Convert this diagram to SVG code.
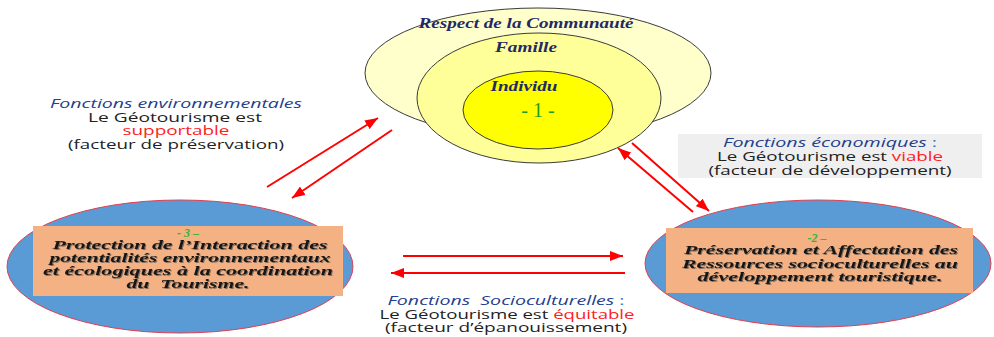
<svg xmlns="http://www.w3.org/2000/svg" width="994" height="337" viewBox="0 0 994 337">
<defs>
<marker id="ah" markerUnits="userSpaceOnUse" markerWidth="14" markerHeight="10" refX="13" refY="5" orient="auto">
<path d="M0,0 L13,5 L0,10 Z" fill="#FF0000"/>
</marker>
<filter id="sh" x="-5%" y="-20%" width="110%" height="140%">
<feDropShadow dx="1" dy="1" stdDeviation="0.6" flood-color="#555" flood-opacity="0.7"/>
</filter>
</defs>
<style>
.ring{stroke:#3a3a3a;stroke-width:1}
.blue{fill:#5B9BD5;stroke:#E0404F;stroke-width:1}
.box{fill:#F4B183}
.lbl{font-family:"Liberation Serif",serif;font-weight:bold;font-style:italic;font-size:14px;fill:#1F2A66;text-anchor:middle}
.bx{font-family:"Liberation Serif",serif;font-weight:bold;font-style:italic;font-size:13px;fill:#151515;text-anchor:middle;filter:url(#sh)}
.num{font-family:"Liberation Serif",serif;font-weight:bold;font-style:italic;font-size:12px;fill:#33B533;text-anchor:middle}
.fn{font-family:"Open Sans","DejaVu Sans",sans-serif;font-size:12px;fill:#222;text-anchor:middle}
.fi{font-style:italic;fill:#23408E}
.red{fill:#FF2020}
.arr{stroke:#FF0000;stroke-width:2;fill:none;marker-end:url(#ah)}
</style>
<rect width="994" height="337" fill="#FFFFFF"/>

<g id="circles">
<ellipse class="ring" cx="538" cy="73" rx="173" ry="65" fill="#FFFFCC"/>
<ellipse class="ring" cx="539" cy="98" rx="122" ry="65" fill="#FFFF99"/>
<ellipse class="ring" cx="538" cy="110" rx="75" ry="39" fill="#FFFF00"/>
<text class="lbl" x="526" y="28" textLength="215" lengthAdjust="spacingAndGlyphs">Respect de la Communauté</text>
<text class="lbl" x="526" y="52" textLength="62" lengthAdjust="spacingAndGlyphs">Famille</text>
<text class="lbl" x="524" y="91" textLength="67" lengthAdjust="spacingAndGlyphs">Individu</text>
<text x="538" y="117" font-family="Liberation Serif,serif" font-size="20" fill="#1E9E1E" text-anchor="middle" xml:space="preserve">- 1 -</text>
</g>

<g id="node3">
<ellipse class="blue" cx="180" cy="266.5" rx="173" ry="66.5"/>
<rect class="box" x="33" y="226" width="310" height="70"/>
<text class="num" x="188" y="237" xml:space="preserve">- 3 –</text>
<text class="bx" x="190" y="249" textLength="275" lengthAdjust="spacingAndGlyphs">Protection de l’Interaction des</text>
<text class="bx" x="190" y="262" textLength="281" lengthAdjust="spacingAndGlyphs">potentialités environnementaux</text>
<text class="bx" x="188" y="275" textLength="290" lengthAdjust="spacingAndGlyphs">et écologiques à la coordination</text>
<text class="bx" x="188" y="288" textLength="123" lengthAdjust="spacingAndGlyphs" xml:space="preserve">du  Tourisme.</text>
</g>

<g id="node2">
<ellipse class="blue" cx="818" cy="263.5" rx="173" ry="63.5"/>
<rect class="box" x="666" y="228" width="307" height="65"/>
<text class="num" x="817" y="242" xml:space="preserve">-2 –</text>
<text class="bx" x="821" y="254" textLength="274" lengthAdjust="spacingAndGlyphs">Préservation et Affectation des</text>
<text class="bx" x="820" y="268" textLength="276" lengthAdjust="spacingAndGlyphs">Ressources socioculturelles au</text>
<text class="bx" x="820" y="281" textLength="245" lengthAdjust="spacingAndGlyphs">développement touristique.</text>
</g>

<g id="label-env">
<text class="fn fi" x="176" y="108" textLength="252" lengthAdjust="spacingAndGlyphs">Fonctions environnementales</text>
<text class="fn" x="175" y="122" textLength="174" lengthAdjust="spacingAndGlyphs">Le Géotourisme est</text>
<text class="fn red" x="176" y="135" textLength="107" lengthAdjust="spacingAndGlyphs">supportable</text>
<text class="fn" x="176" y="149" textLength="216" lengthAdjust="spacingAndGlyphs">(facteur de préservation)</text>
</g>

<g id="label-eco">
<rect x="678" y="134" width="304" height="44" fill="#EFEFEF"/>
<text class="fn" x="830" y="147" textLength="214" lengthAdjust="spacingAndGlyphs"><tspan class="fi">Fonctions économiques </tspan><tspan fill="#2E75D0">:</tspan></text>
<text class="fn" x="830" y="161" textLength="226" lengthAdjust="spacingAndGlyphs">Le Géotourisme est <tspan class="red">viable</tspan></text>
<text class="fn" x="830" y="175" textLength="243" lengthAdjust="spacingAndGlyphs">(facteur de développement)</text>
</g>

<g id="label-socio">
<text class="fn" x="506" y="305" textLength="237" lengthAdjust="spacingAndGlyphs" xml:space="preserve"><tspan class="fi">Fonctions  Socioculturelles </tspan><tspan fill="#2E75D0">:</tspan></text>
<text class="fn" x="507" y="319" textLength="255" lengthAdjust="spacingAndGlyphs">Le Géotourisme est <tspan class="red">équitable</tspan></text>
<text class="fn" x="506" y="332" textLength="242" lengthAdjust="spacingAndGlyphs">(facteur d’épanouissement)</text>
</g>

<g id="connectors">
<line class="arr" x1="267" y1="187" x2="378" y2="118"/>
<line class="arr" x1="392" y1="130" x2="292" y2="198"/>
<line class="arr" x1="693" y1="212" x2="618" y2="148"/>
<line class="arr" x1="632" y1="143" x2="709" y2="211"/>
<line class="arr" x1="403" y1="256" x2="623" y2="256"/>
<line class="arr" x1="625" y1="273" x2="391" y2="273"/>
</g>
</svg>
